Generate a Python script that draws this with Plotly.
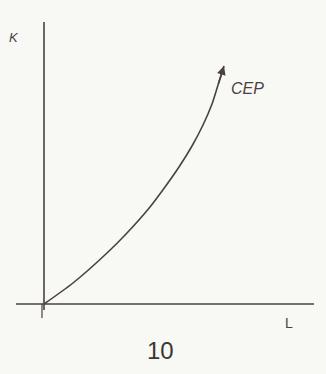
import plotly.graph_objects as go

# Expansion path (CEP), in abstract units (L, K)
L_vals = [0.0, 2.9, 6.3, 8.3, 10.6, 12.1, 13.5, 14.8, 15.9, 16.8, 17.4, 18.0]
K_vals = [0.0, 2.1, 5.1, 7.1, 9.7, 11.7, 13.7, 15.8, 17.9, 20.0, 21.9, 23.8]
curve_label = "CEP"
x_label = "L"
y_label = "K"
caption = "10"

ink = "#4a4242"
bg = "#f8f8f5"

fig = go.Figure()
fig.add_trace(go.Scatter(x=L_vals, y=K_vals, mode="lines",
                         line=dict(color=ink, width=1.6, shape="spline", smoothing=0.7),
                         hoverinfo="skip", showlegend=False))
# arrow head on the last segment
fig.add_annotation(x=L_vals[-1], y=K_vals[-1], ax=L_vals[-2], ay=K_vals[-2],
                   xref="x", yref="y", axref="x", ayref="y", text="",
                   showarrow=True, arrowhead=2, arrowsize=1.1, arrowwidth=1.6,
                   arrowcolor=ink, startstandoff=0)

# axes
fig.add_shape(type="line", x0=0, x1=0, y0=-0.6, y1=28.2, line=dict(color=ink, width=1.6))
fig.add_shape(type="line", x0=-2.8, x1=27.0, y0=0, y1=0, line=dict(color=ink, width=1.6))
fig.add_shape(type="line", x0=-0.2, x1=-0.2, y0=0, y1=-1.4, line=dict(color=ink, width=1.2))

fig.add_annotation(x=18.5, y=21.6, text="<i>" + curve_label + "</i>", showarrow=False,
                   xanchor="left", font=dict(family="Liberation Sans", size=16, color=ink))
fig.add_annotation(x=-3.0, y=26.7, text="<i>" + y_label + "</i>", showarrow=False,
                   font=dict(family="Liberation Sans", size=13, color=ink))
fig.add_annotation(x=24.5, y=-1.9, text=x_label, showarrow=False,
                   font=dict(family="Liberation Sans", size=14, color=ink))
fig.add_annotation(x=11.6, y=-4.6, text=caption, showarrow=False,
                   font=dict(family="Liberation Sans", size=24, color="#3a3636"))

fig.update_xaxes(range=[-4.4, 28.2], visible=False)
fig.update_yaxes(range=[-7.0, 30.4], visible=False)
fig.update_layout(width=326, height=374, margin=dict(l=0, r=0, t=0, b=0),
                  paper_bgcolor=bg, plot_bgcolor=bg)

fig.write_html("out.html", config={"displayModeBar": False},
               post_script="document.body.style.margin='0';document.body.style.background='%s';" % bg)
